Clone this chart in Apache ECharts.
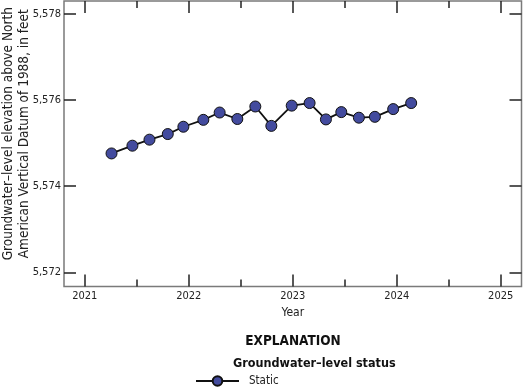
<!DOCTYPE html>
<html>
<head>
<meta charset="utf-8">
<script src="https://cdn.jsdelivr.net/npm/echarts@6/dist/echarts.min.js"></script>
<style>html,body{margin:0;padding:0;background:#fff}#c{width:524px;height:389px}</style>
</head>
<body>
<div id="c"></div>
<script>
var FONT = '"Liberation Sans Narrow","DejaVu Sans Condensed","Arial Narrow",sans-serif';
// decimal-year dates of measurements
var dates = [2021.257, 2021.458, 2021.622, 2021.798, 2021.948, 2022.140, 2022.297, 2022.467, 2022.640, 2022.794, 2022.990, 2023.162, 2023.319, 2023.467, 2023.636, 2023.790, 2023.966, 2024.139];
// groundwater-level elevation, feet
var levels = [5574.76, 5574.94, 5575.08, 5575.21, 5575.38, 5575.54, 5575.71, 5575.56, 5575.85, 5575.40, 5575.87, 5575.93, 5575.55, 5575.72, 5575.59, 5575.61, 5575.79, 5575.93];
var yearTicks = [2021, 2022, 2023, 2024, 2025];
var halfYearTicks = [2021.5, 2022.5, 2023.5, 2024.5];
var yTicks = [5572, 5574, 5576, 5578];

var X_MIN = 2020.8, X_MAX = 2025.2, Y_MIN = 5571.67, Y_MAX = 5578.3;
var tickColor = '#222';

function xAx(pos, vals, len, showLabel, extra) {
  var a = {
    type: 'value', position: pos, min: X_MIN, max: X_MAX,
    axisLine: {show: false},
    splitLine: {show: false},
    axisTick: {show: true, inside: true, length: len, customValues: vals, lineStyle: {color: tickColor, width: 1.5}},
    axisLabel: {show: showLabel, customValues: vals, margin: 4, color: '#222', fontSize: 11, fontFamily: FONT,
      formatter: function (v) { return String(Math.round(v)); }}
  };
  for (var k in extra) a[k] = extra[k];
  return a;
}
function yAx(pos, showLabel, extra) {
  var a = {
    type: 'value', position: pos, min: Y_MIN, max: Y_MAX,
    axisLine: {show: false},
    splitLine: {show: false},
    axisTick: {show: true, inside: true, length: 12, customValues: yTicks, lineStyle: {color: tickColor, width: 1.5}},
    axisLabel: {show: showLabel, customValues: yTicks, margin: 3, color: '#222', fontSize: 11, fontFamily: FONT,
      formatter: function (v) { var s = String(Math.round(v)); return s.slice(0, 1) + ',' + s.slice(1); }}
  };
  for (var k in extra) a[k] = extra[k];
  return a;
}

var chart = echarts.init(document.getElementById('c'), null, {renderer: 'canvas'});
chart.setOption({
  animation: false,
  backgroundColor: '#fff',
  grid: {left: 64, right: 2.5, top: 1, bottom: 102.5, outerBoundsMode: 'none', containLabel: false,
    show: true, borderColor: '#7a7a7a', borderWidth: 1.5, backgroundColor: 'transparent'},
  xAxis: [
    xAx('bottom', yearTicks, 12, true, {name: 'Year', nameLocation: 'middle', nameGap: 20, nameMoveOverlap: false,
      nameTextStyle: {color: '#222', fontSize: 12, fontFamily: FONT}}),
    xAx('bottom', halfYearTicks, 7, false, {}),
    xAx('top', yearTicks, 12, false, {}),
    xAx('top', halfYearTicks, 7, false, {})
  ],
  yAxis: [
    yAx('left', true, {name: 'Groundwater\u2013level elevation above North\nAmerican Vertical Datum of 1988, in feet',
      nameLocation: 'middle', nameGap: 31, nameRotate: 90, nameMoveOverlap: false,
      nameTextStyle: {color: '#222', fontSize: 13.5, fontFamily: FONT, lineHeight: 16.5, padding: [0, 0, 0, 20]}}),
    yAx('right', false, {})
  ],
  legend: {
    left: 195, top: 375, orient: 'vertical', padding: 0,
    itemWidth: 43, itemHeight: 12, itemGap: 0,
    textStyle: {color: '#222', fontSize: 11.5, fontFamily: FONT, padding: [0, 0, 0, 5]},
    data: ['Static']
  },
  graphic: [
    {type: 'text', x: 293, y: 334, style: {text: 'EXPLANATION', fill: '#111', font: 'bold 13.5px ' + FONT, textAlign: 'center'}},
    {type: 'text', x: 233, y: 357, style: {text: 'Groundwater\u2013level status', fill: '#111', font: 'bold 12.5px ' + FONT}}
  ],
  series: [{
    name: 'Static', type: 'line', xAxisIndex: 0, yAxisIndex: 0,
    data: dates.map(function (d, i) { return [d, levels[i]]; }),
    symbol: 'circle', symbolSize: 11,
    lineStyle: {color: '#111', width: 1.8},
    itemStyle: {color: '#434B9E', borderColor: '#111', borderWidth: 1},
    z: 5
  }]
});
</script>
</body>
</html>
